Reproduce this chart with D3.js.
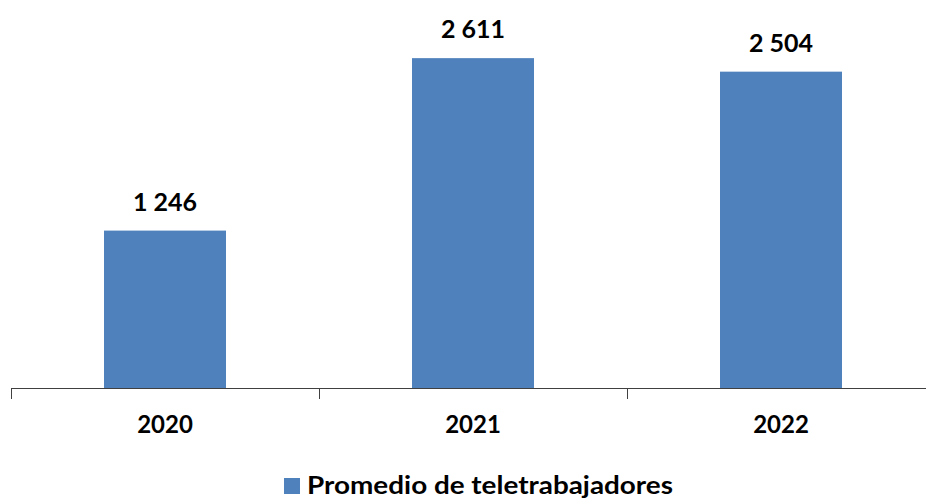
<!DOCTYPE html>
<html>
<head>
<meta charset="utf-8">
<script src="https://cdn.jsdelivr.net/npm/d3@7"></script>
<style>
  html, body { margin: 0; padding: 0; background: #fff; }
  svg { display: block; }
</style>
</head>
<body>
<div id="chart"></div>
<script>
var years = ['2020', '2021', '2022'];
var promedio = [1246, 2611, 2504];
var seriesName = 'Promedio de teletrabajadores';

var width = 926, height = 498;
var fontFam = 'Lato, "Open Sans", sans-serif';

var svg = d3.select('#chart').append('svg')
    .attr('width', width)
    .attr('height', height);

// category bands, plot spans past the right edge like the original
var x = d3.scaleBand()
    .domain(years)
    .range([11, 935])
    .paddingInner(0)
    .paddingOuter(0);

var y = d3.scaleLinear()
    .domain([0, 3000])
    .range([388, 9]);

var barW = 122;
var fmt = function(v) { return d3.format(',')(v).replace(/,/g, ' '); };

svg.selectAll('rect.bar')
  .data(promedio)
  .enter().append('rect')
    .attr('class', 'bar')
    .attr('x', function(d, i) { return x(years[i]) + x.bandwidth() / 2 - barW / 2; })
    .attr('y', function(d) { return y(d); })
    .attr('width', barW)
    .attr('height', function(d) { return y(0) - y(d); })
    .attr('fill', '#4F81BD');

svg.selectAll('text.val')
  .data(promedio)
  .enter().append('text')
    .attr('class', 'val')
    .attr('x', function(d, i) { return x(years[i]) + x.bandwidth() / 2; })
    .attr('y', function(d) { return y(d) - 20; })
    .attr('text-anchor', 'middle')
    .style('font-family', fontFam)
    .style('font-weight', 'bold')
    .style('font-size', '25px')
    .attr('fill', '#000')
    .text(fmt);

// x axis: line with ticks on band edges
var axisG = svg.append('g');
axisG.append('line')
    .attr('x1', x.range()[0]).attr('x2', x.range()[1])
    .attr('y1', y(0) + 0.5).attr('y2', y(0) + 0.5)
    .attr('stroke', '#404040').attr('stroke-width', 1);

var edges = years.map(function(c) { return x(c); }).concat([x.range()[1]]);
axisG.selectAll('line.tick')
  .data(edges)
  .enter().append('line')
    .attr('class', 'tick')
    .attr('x1', function(d) { return Math.round(d) + 0.5; })
    .attr('x2', function(d) { return Math.round(d) + 0.5; })
    .attr('y1', y(0))
    .attr('y2', y(0) + 11)
    .attr('stroke', '#404040').attr('stroke-width', 1);

axisG.selectAll('text.cat')
  .data(years)
  .enter().append('text')
    .attr('class', 'cat')
    .attr('x', function(d) { return x(d) + x.bandwidth() / 2; })
    .attr('y', 433)
    .attr('text-anchor', 'middle')
    .style('font-family', fontFam)
    .style('font-weight', 'bold')
    .style('font-size', '24px')
    .attr('fill', '#000')
    .text(function(d) { return d; });

// legend
var leg = svg.append('g');
leg.append('rect')
    .attr('x', 284).attr('y', 478)
    .attr('width', 16).attr('height', 16)
    .attr('fill', '#4F81BD');
leg.append('text')
    .attr('x', 307).attr('y', 494)
    .attr('textLength', 366)
    .attr('lengthAdjust', 'spacingAndGlyphs')
    .style('font-family', fontFam)
    .style('font-weight', 'bold')
    .style('font-size', '25px')
    .attr('fill', '#000')
    .text(seriesName);
</script>
</body>
</html>
